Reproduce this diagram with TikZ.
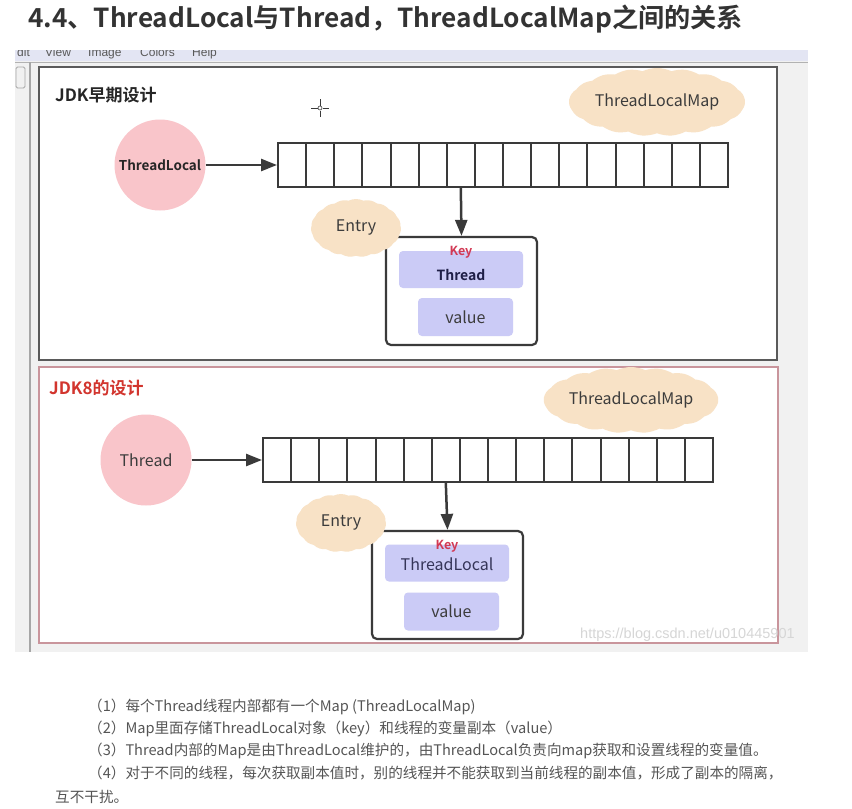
\documentclass[tikz,border=0pt]{standalone}
\usepackage{fontspec}
\setmainfont{Noto Sans CJK SC}[BoldFont={Noto Sans CJK SC Bold}]
\newfontfamily\wmfont{Liberation Sans}
\usetikzlibrary{shapes.symbols,arrows.meta}
\definecolor{linec}{HTML}{3A3A3A}
\definecolor{pinkc}{HTML}{F9C5CA}
\definecolor{peach}{HTML}{F8E2C6}
\definecolor{lav}{HTML}{CBCBF6}
\definecolor{keyred}{HTML}{D23A55}
\definecolor{jdkred}{HTML}{D2352E}
\definecolor{navy}{HTML}{1E1E46}
\definecolor{panelb}{HTML}{5A5A5A}
\definecolor{pinkb}{HTML}{C9959C}
\definecolor{txtg}{HTML}{555555}
\definecolor{txtdark}{HTML}{3C3C3C}
\definecolor{titlec}{HTML}{333333}
\definecolor{menub}{HTML}{E3E5F3}
\definecolor{chrome}{HTML}{F1F1F1}
\definecolor{wmc}{HTML}{D6D6D6}
\begin{document}
\begin{tikzpicture}[x=1pt,y=-1pt,
  celld/.style={draw=linec, line width=2pt, minimum width=28.125pt, minimum height=44pt, inner sep=0pt},
  ball/.style={circle, fill=pinkc, minimum size=91pt, inner sep=0pt},
  blob/.style={cloud, cloud ignores aspect, cloud puffs=19, cloud puff arc=50, fill=peach, inner sep=0pt, text=txtdark, font=\fontsize{16}{18}\selectfont},
  ebox/.style={draw=linec, line width=2.2pt, rounded corners=5pt, minimum width=151pt, minimum height=108pt, inner sep=0pt},
  kbox/.style={fill=lav, rounded corners=4pt, minimum width=124pt, minimum height=37pt, inner sep=0pt},
  vbox/.style={fill=lav, rounded corners=4pt, minimum width=95pt, minimum height=38pt, inner sep=0pt, text=txtdark, font=\fontsize{16}{18}\selectfont},
  arr/.style={draw=linec, line width=2.5pt, -{Triangle[length=16pt,width=12pt]}},
  keylbl/.style={text=keyred, font=\fontsize{12.5}{14}\selectfont\bfseries, inner sep=0pt},
  note/.style={anchor=base west, inner sep=0pt, text=txtg, font=\fontsize{14.6}{16}\selectfont},
  menu/.style={anchor=base west, inner sep=0pt, text=gray!70!black, font=\wmfont\fontsize{12}{12}\selectfont},
]
\useasboundingbox (0,0) rectangle (852,809);
\fill[white] (0,0) rectangle (852,809);

% title
\node[anchor=base west, inner sep=0pt, text=titlec, font=\fontsize{26.2}{28}\selectfont\bfseries] (title) at (28,27.5) {4.4、ThreadLocal与Thread，ThreadLocalMap之间的关系};

% screenshot chrome
\fill[chrome] (15,50) rectangle (808,652);
\fill[menub] (15,50) rectangle (808,61);
\draw[gray!60, line width=1.5pt] (15,62.5) -- (808,62.5);
\draw[gray!70, line width=2pt] (30,62) -- (30,652);
\draw[gray!70, rounded corners=1.5pt, line width=0.8pt] (16,67) rectangle (25,88);
\begin{scope}
  \clip (15,50) rectangle (808,62);
  \node[menu] (m1) at (17,56.5) {dit};
  \node[menu] (m2) at (45,56.5) {View};
  \node[menu] (m3) at (88,56.5) {Image};
  \node[menu] (m4) at (140,56.5) {Colors};
  \node[menu] (m5) at (192,56.5) {Help};
\end{scope}

% panels
\filldraw[fill=white, draw=panelb, line width=1.3pt] (39,67) rectangle (777,360);
\filldraw[fill=white, draw=pinkb, line width=1.3pt] (39,367) rectangle (778,643);

% ===== top panel =====
\node[anchor=west, inner sep=0pt, text=black!85, font=\fontsize{17}{19}\selectfont\bfseries] (h1) at (55,95) {JDK早期设计};
\draw[linec, line width=0.8pt] (311,108) -- (317.5,108) (322.5,108) -- (329,108) (320,99) -- (320,105.5) (320,110.5) -- (320,117);
\draw[linec, line width=0.6pt] (320,108) circle (2pt);

\node[blob, minimum width=176pt, minimum height=68pt] (map1) at (657,102) {ThreadLocalMap};
\node[ball, font=\fontsize{13.5}{15}\selectfont\bfseries, text=black!85] (tl) at (160,165) {ThreadLocal};
\foreach \i in {0,...,15} \node[celld] (a\i) at ({278+28.125*(\i+0.5)},165) {};
\draw[arr] (tl) -- (a0.west);

\node[ebox] (e1) at (461.5,291) {};
\node[kbox] (k1) at (461,269.5) {};
\node[keylbl] (k1key) at (461,252) {Key};
\node[inner sep=0pt, text=navy, font=\fontsize{14}{16}\selectfont\bfseries] (k1t) at (461,275) {Thread};
\node[vbox] (v1) at (465.5,317) {value};
\draw[arr] (a6.south) -- (e1.north);
\node[blob, minimum width=90pt, minimum height=58pt] (en1) at (356,228) {Entry};

% ===== bottom panel =====
\node[anchor=west, inner sep=0pt, text=jdkred, font=\fontsize{17}{19}\selectfont\bfseries] (h2) at (49,388) {JDK8的设计};
\node[blob, minimum width=172pt, minimum height=66pt] (map2) at (631,400) {ThreadLocalMap};
\node[ball, font=\fontsize{16}{18}\selectfont, text=txtdark] (th) at (146,460) {Thread};
\foreach \i in {0,...,15} \node[celld] (b\i) at ({263+28.125*(\i+0.5)},460) {};
\draw[arr] (th) -- (b0.west);

\node[ebox] (e2) at (447.5,585) {};
\node[kbox] (k2) at (447,563) {};
\node[keylbl] (k2key) at (447,546) {Key};
\node[inner sep=0pt, text=navy!90, font=\fontsize{16}{18}\selectfont] (k2t) at (447,564) {ThreadLocal};
\node[vbox] (v2) at (451.5,611.5) {value};
\draw[arr] (b6.south) -- (e2.north);
\node[blob, minimum width=90pt, minimum height=58pt] (en2) at (341,523) {Entry};

% watermark
\node[anchor=west, inner sep=0pt, text=wmc, font=\wmfont\fontsize{14.5}{16}\selectfont] (wm) at (580,635) {https://blog.csdn.net/u010445901};

% notes
\node[note] (n1) at (88,711.5) {（1）每个Thread线程内部都有一个Map (ThreadLocalMap)};
\node[note] (n2) at (88,733.5) {（2）Map里面存储ThreadLocal对象（key）和线程的变量副本（value）};
\node[note] (n3) at (88,755.5) {（3）Thread内部的Map是由ThreadLocal维护的，由ThreadLocal负责向map获取和设置线程的变量值。};
\node[note] (n4) at (88,778.5) {（4）对于不同的线程，每次获取副本值时，别的线程并不能获取到当前线程的副本值，形成了副本的隔离，};
\node[note] (n5) at (55,802.5) {互不干扰。};
\end{tikzpicture}
\end{document}
